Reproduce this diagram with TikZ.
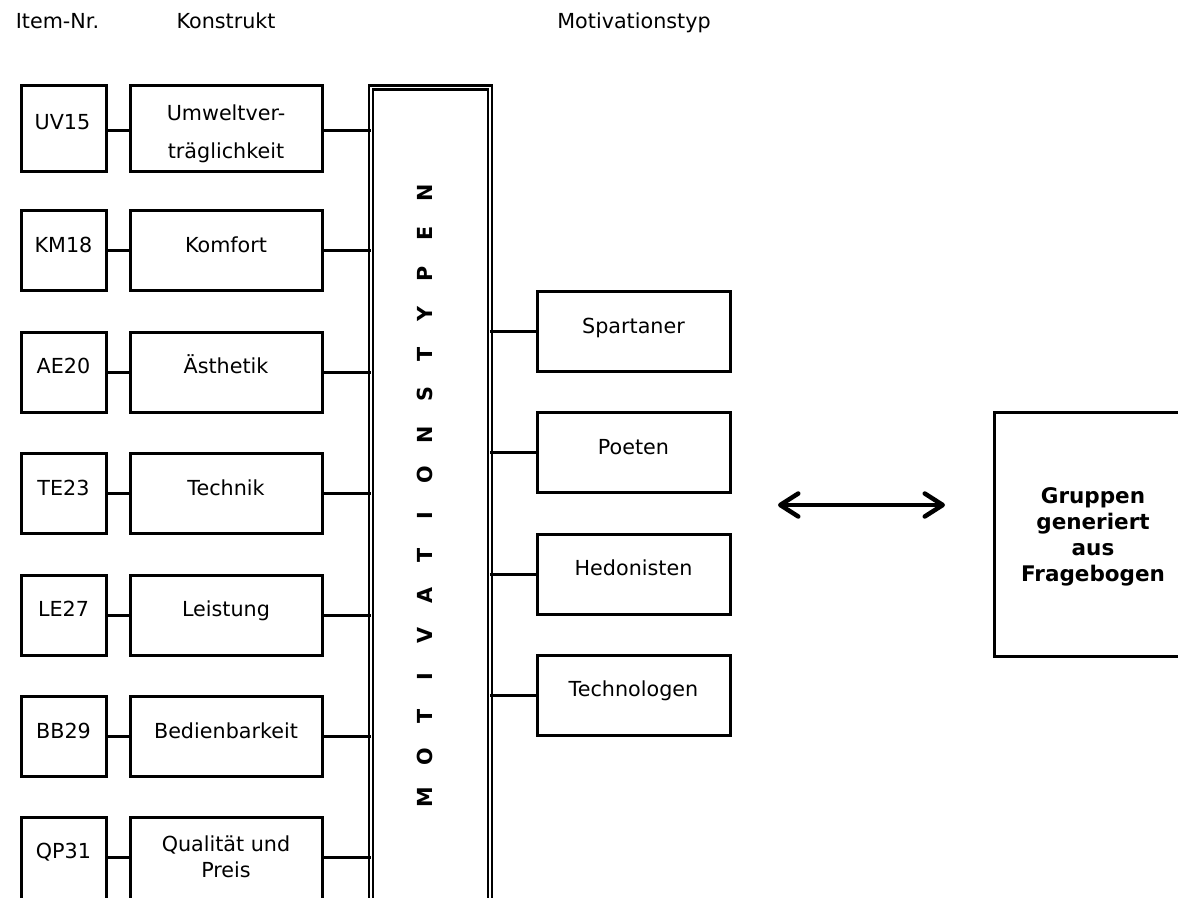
\documentclass[tikz,border=0pt]{standalone}
\usepackage{fontspec}
\setmainfont{DejaVu Sans}
\usetikzlibrary{arrows.meta}
\newcommand\mvletter[1]{\makebox[40.27pt]{#1}}
\begin{document}
\begin{tikzpicture}[x=1pt,y=-1pt,
  every node/.style={inner sep=0pt, outer sep=0pt},
  boxframe/.style={draw, line width=3pt, minimum width=#1},
  ibox/.style={boxframe=85pt, minimum height=80pt},
  kbox/.style={boxframe=192pt, minimum height=80pt},
  rbox/.style={boxframe=193pt, minimum height=80pt},
  conn/.style={line width=3pt},
  txt/.style={anchor=base, font=\fontsize{20.7pt}{24pt}\selectfont},
  btxt/.style={anchor=base, font=\fontsize{21.5pt}{26pt}\selectfont\bfseries},
  barb/.tip={Straight Barb[length=18pt,width=23pt,round]}
]
\useasboundingbox (0,0) rectangle (1178,897);
\clip (0,0) rectangle (1178,897);

% headers
\node[txt] (h1) at (57.5,28.5) {Item-Nr.};
\node[txt] (h2) at (226,28.5) {Konstrukt};
\node[txt] (h3) at (634,28.5) {Motivationstyp};

% row coordinates
\coordinate (r1) at (0,130);
\coordinate (r2) at (0,250.7);
\coordinate (r3) at (0,372);
\coordinate (r4) at (0,493.5);
\coordinate (r5) at (0,615);
\coordinate (r6) at (0,736.7);
\coordinate (r7) at (0,857);

% motivation column
\node[draw, double, line width=2.2pt, double distance=1.7pt,
      minimum width=119pt, minimum height=912pt] (col) at (430.4,543.5) {};
\node[rotate=90, font=\fontsize{20.7pt}{24pt}\selectfont\bfseries] (mt) at (424.5,495)
  {\mvletter{M}\mvletter{O}\mvletter{T}\mvletter{I}\mvletter{V}\mvletter{A}\mvletter{T}\mvletter{I}\mvletter{O}\mvletter{N}\mvletter{S}\mvletter{T}\mvletter{Y}\mvletter{P}\mvletter{E}\mvletter{N}};

% item and construct boxes
\node[ibox, minimum height=86pt] (uv) at (63.5,128) {};
\node[kbox, minimum height=86pt] (kuv) at (226,128) {};
\node[ibox] (km) at (63.5,250.7) {};
\node[kbox] (kkm) at (226,250.7) {};
\node[ibox] (ae) at (63.5,372) {};
\node[kbox] (kae) at (226,372) {};
\node[ibox] (te) at (63.5,493.5) {};
\node[kbox] (kte) at (226,493.5) {};
\node[ibox] (le) at (63.5,615) {};
\node[kbox] (kle) at (226,615) {};
\node[ibox] (bb) at (63.5,736.7) {};
\node[kbox] (kbb) at (226,736.7) {};
\node[ibox, minimum height=100pt] (qp) at (63.5,867) {};
\node[kbox, minimum height=100pt] (kqp) at (226,867) {};

% texts
\node[txt] (tuv) at (62.5,129.5) {UV15};
\node[txt] (tkuv1) at (226,120.7) {Umweltver-};
\node[txt] (tkuv2) at (226,158.5) {träglichkeit};
\node[txt] (tkm) at (63.5,252.2) {KM18};
\node[txt] (tkkm) at (226,252.2) {Komfort};
\node[txt] (tae) at (63.5,373.5) {AE20};
\node[txt] (tkae) at (226,373.5) {Ästhetik};
\node[txt] (tte) at (63.5,495) {TE23};
\node[txt] (tkte) at (226,495) {Technik};
\node[txt] (tle) at (63.5,616.5) {LE27};
\node[txt] (tkle) at (226,616.5) {Leistung};
\node[txt] (tbb) at (63.5,738.2) {BB29};
\node[txt] (tkbb) at (226,738.2) {Bedienbarkeit};
\node[txt] (tqp) at (63.5,858.5) {QP31};
\node[txt] (tkqp1) at (226,851.7) {Qualität und};
\node[txt] (tkqp2) at (226,877) {Preis};

% connectors left side
\foreach \i/\k/\r in {uv/kuv/r1, km/kkm/r2, ae/kae/r3, te/kte/r4, le/kle/r5, bb/kbb/r6, qp/kqp/r7}{
  \draw[conn] (\i.east |- \r) -- (\k.west |- \r);
  \draw[conn] (\k.east |- \r) -- (col.west |- \r);
}

% right boxes
\node[rbox] (sp) at (633.5,331.7) {};
\node[rbox] (po) at (633.5,452.5) {};
\node[rbox] (he) at (633.5,574) {};
\node[rbox] (tg) at (633.5,695) {};
\node[txt] (tsp) at (633.5,333.2) {Spartaner};
\node[txt] (tpo) at (633.5,454) {Poeten};
\node[txt] (the) at (633.5,575.5) {Hedonisten};
\node[txt] (ttg) at (633.5,696.5) {Technologen};
\foreach \b in {sp,po,he,tg}{
  \draw[conn] (col.east |- \b.west) -- (\b.west);
}

% arrow
\coordinate (al) at (778,505);
\coordinate (ar) at (945,505);
\draw[line width=4.5pt, barb-barb] (al) -- (ar);

% group box
\node[boxframe=198pt, minimum height=244pt] (gr) at (1093,534) {};
\node[btxt] (g1) at (1093,503.3) {Gruppen};
\node[btxt] (g2) at (1093,529.3) {generiert};
\node[btxt] (g3) at (1093,555.3) {aus};
\node[btxt] (g4) at (1093,581.5) {Fragebogen};
\end{tikzpicture}
\end{document}
